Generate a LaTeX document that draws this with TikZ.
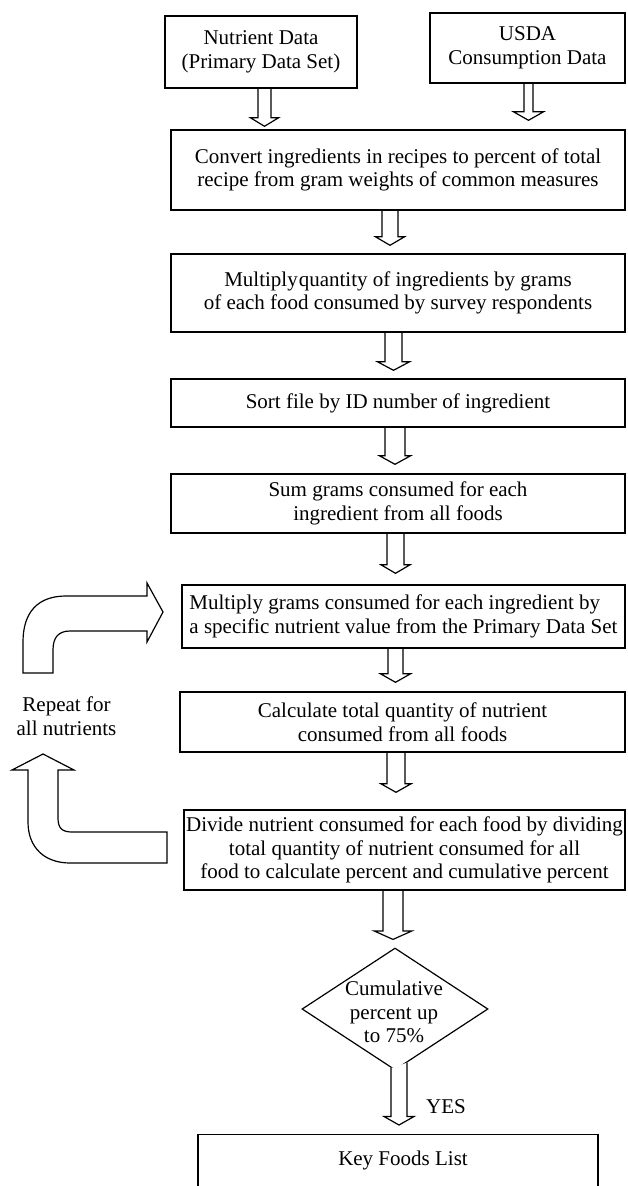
\documentclass[tikz,border=0pt]{standalone}
\usepackage{fontspec}
\setmainfont{Liberation Serif}
\usetikzlibrary{shapes.geometric,calc}
\newcommand\fs{\fontsize{21pt}{23.5pt}\selectfont}
\tikzset{
 box/.style={draw=black, line width=1.4pt, inner sep=0pt, align=center, font=\fs},
 txt/.style={inner sep=0pt, align=center, font=\fs},
 blk/.style={draw=black, line width=1.2pt, line join=miter},
}
% #1 x centre, #2 start anchor, #3 target node, #4 gap above target, #5 shaft half width, #6 head half width
\newcommand\blockdown[6]{%
 \draw[blk] let \p1=(#2), \p2=(#3.north) in
  (#1pt-#5pt,\y1) -- (#1pt-#5pt,\y2+#4pt+8.5pt) -- (#1pt-#6pt,\y2+#4pt+8.5pt) -- (#1pt,\y2+#4pt)
  -- (#1pt+#6pt,\y2+#4pt+8.5pt) -- (#1pt+#5pt,\y2+#4pt+8.5pt) -- (#1pt+#5pt,\y1);
}
\begin{document}
\begin{tikzpicture}[x=1pt,y=-1pt]
\useasboundingbox (0,0) rectangle (627,1186);
\clip (0,0) rectangle (627,1186);

\node[box, minimum width=192pt, minimum height=72pt] (nut) at (261,52) {Nutrient Data\\(Primary Data Set)};
\node[box, minimum width=195pt, minimum height=70pt] (usda) at (527.5,48) {USDA\\Consumption Data};
\node[box, minimum width=454pt, minimum height=80pt] (conv) at (398,170) {Convert ingredients in recipes to percent of total\\recipe from gram weights of common measures};
\node[box, minimum width=454pt, minimum height=78pt] (mult1) at (398,293) {Multiply\hspace{1pt}quantity of ingredients by grams\\of each food consumed by survey respondents};
\node[box, minimum width=454pt, minimum height=48pt] (sort) at (398,403) {Sort file by ID number of ingredient};
\node[box, minimum width=454pt, minimum height=59pt] (sum) at (398,503.5) {Sum grams consumed for each\\ingredient from all foods};
\node[box, align=left, minimum width=443pt, minimum height=63pt] (mult2) at (403.5,616.5) {Multiply grams consumed for each ingredient by\\a specific nutrient value from the Primary Data Set};
\node[box, minimum width=445pt, minimum height=60pt] (calc) at (402.5,722) {Calculate total quantity of nutrient\\consumed from all foods};
\node[box, minimum width=441pt, minimum height=80pt] (div) at (404.5,850) {Divide nutrient consumed for each food by dividing\\total quantity of nutrient consumed for all\\food to calculate percent and cumulative percent};
\node[diamond, draw=black, line width=1.2pt, minimum width=186pt, minimum height=122pt, inner sep=0pt] (dia) at (395,1009) {};
\node[txt] (diatext) at (394,1012) {Cumulative\\percent up\\to 75\%};
\node[draw=black, line width=1.4pt, minimum width=400pt, minimum height=80pt, anchor=north, inner sep=0pt] (key) at (398,1134) {};
\node[txt] (keytext) at (403,1160) {Key Foods List};
\node[txt] (yes) at (446,1107) {YES};
\node[txt] (repeat) at (66.5,716) {Repeat for\\all nutrients};

\blockdown{264.5}{nut.south}{conv}{3}{6.5}{14}
\blockdown{528.5}{usda.south}{conv}{9}{4.5}{15}
\blockdown{390}{conv.south}{mult1}{8}{8}{14.5}
\blockdown{393.5}{mult1.south}{sort}{8}{8.5}{16}
\blockdown{395}{sort.south}{sum}{9}{10}{15.5}
\blockdown{395.5}{sum.south}{mult2}{11}{8.5}{14.5}
\blockdown{395.5}{mult2.south}{calc}{9}{7.5}{15}
\blockdown{396}{calc.south}{div}{17}{9}{15}
\blockdown{393}{div.south}{dia}{8}{10}{19}

% diamond to key list
\draw[blk, fill=white] let \p1=(dia.south), \p2=(key.north) in
  (391pt,\y1+2.6pt) -- (391pt,\y2+17.5pt) -- (384pt,\y2+17.5pt) -- (399pt,\y2+9pt)
  -- (414pt,\y2+17.5pt) -- (407pt,\y2+17.5pt) -- (407pt,\y1+7.9pt);

% loop arrows
\draw[blk] (23,673) -- (23,642) .. controls (23,612) and (38,596) .. (66,596) -- (147,596)
  -- (147,583) -- (163,612) -- (147,642) -- (147,631) -- (70,631)
  .. controls (58,631) and (53,638) .. (53,650) -- (53,673) -- cycle;
\draw[blk] (43,754) -- (74,770) -- (58,770) -- (58,818) .. controls (58,828) and (62,832) .. (72,832)
  -- (167,832) -- (167,863) -- (70,863) .. controls (45,863) and (28,848) .. (28,822)
  -- (28,770) -- (12,770) -- cycle;
\end{tikzpicture}
\end{document}
